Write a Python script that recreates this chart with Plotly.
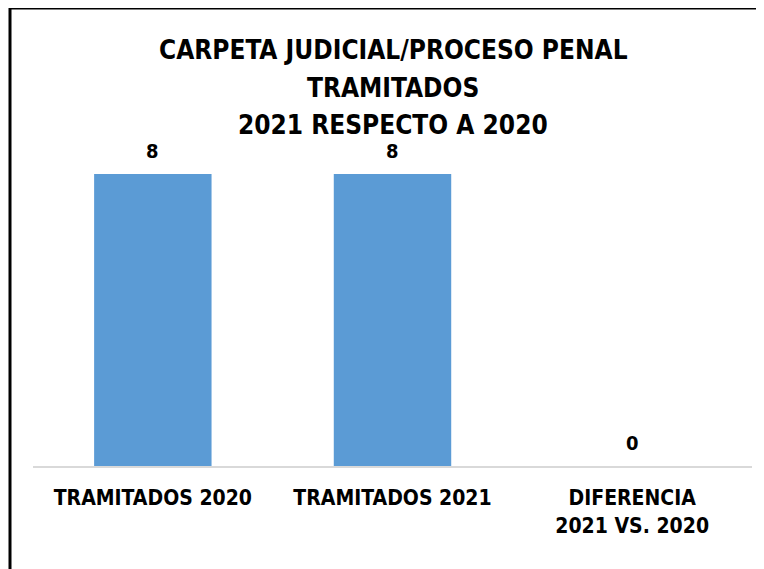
import plotly.graph_objects as go

categories = ['TRAMITADOS 2020', 'TRAMITADOS 2021', 'DIFERENCIA<br>2021 VS. 2020']
values = [8, 8, 0]
title_lines = ['CARPETA JUDICIAL/PROCESO PENAL', 'TRAMITADOS', '2021 RESPECTO A 2020']

BLUE = '#5B9BD5'
FONT = 'DejaVu Sans Condensed, Roboto, sans-serif'

# page body has an 8px margin, so the figure is drawn 8px smaller and shifted
OFF = 8
W, H = 764 - OFF, 569 - OFF
L, R, T, B = 25, 12, 122, 103
pw, ph = W - L - R, H - T - B

def px_x(x):
    return (x - OFF - L) / pw

def px_y(y):
    return (H - B - (y - OFF)) / ph

fig = go.Figure(go.Bar(
    x=categories,
    y=values,
    marker=dict(color=BLUE, line=dict(width=0)),
    width=0.49,
    hoverinfo='x+y',
))

ytop = 8 * ph / (466 - 174)

annotations = []
for line, yc in zip(title_lines, [50, 88, 125]):
    annotations.append(dict(
        text='<b>%s</b>' % line, xref='paper', yref='paper',
        x=px_x(393), y=px_y(yc), xanchor='center', yanchor='middle',
        showarrow=False, font=dict(family=FONT, size=26, color='#000000'),
    ))

# value labels above the bars
for c, v in zip(categories, values):
    annotations.append(dict(
        text='<b>%d</b>' % v, x=c, y=v, xref='x', yref='y',
        yshift=23, xanchor='center', yanchor='middle', showarrow=False,
        font=dict(family=FONT, size=20, color='#000000'),
    ))

fig.update_layout(
    width=W, height=H,
    margin=dict(l=L, r=R, t=T, b=B),
    paper_bgcolor='white',
    plot_bgcolor='white',
    showlegend=False,
    font=dict(family=FONT, color='#000000'),
    annotations=annotations,
    xaxis=dict(
        showgrid=False, showline=True, linecolor='#D9D9D9', linewidth=2,
        ticks='', tickfont=dict(family=FONT, size=21, color='#000000'),
        tickvals=categories, ticktext=['<b>%s</b>' % c for c in categories],
        ticklabelstandoff=12,
        range=[-0.5, 2.5],
    ),
    yaxis=dict(
        range=[0, ytop], visible=False, showgrid=False, zeroline=False,
    ),
    shapes=[
        dict(type='line', xref='paper', yref='paper',
             x0=px_x(10), x1=px_x(10), y0=px_y(8), y1=px_y(580),
             line=dict(color='#000000', width=3)),
        dict(type='line', xref='paper', yref='paper',
             x0=px_x(9), x1=px_x(780), y0=px_y(8), y1=px_y(8),
             line=dict(color='#000000', width=3)),
    ],
)

fig.write_html("out.html")
